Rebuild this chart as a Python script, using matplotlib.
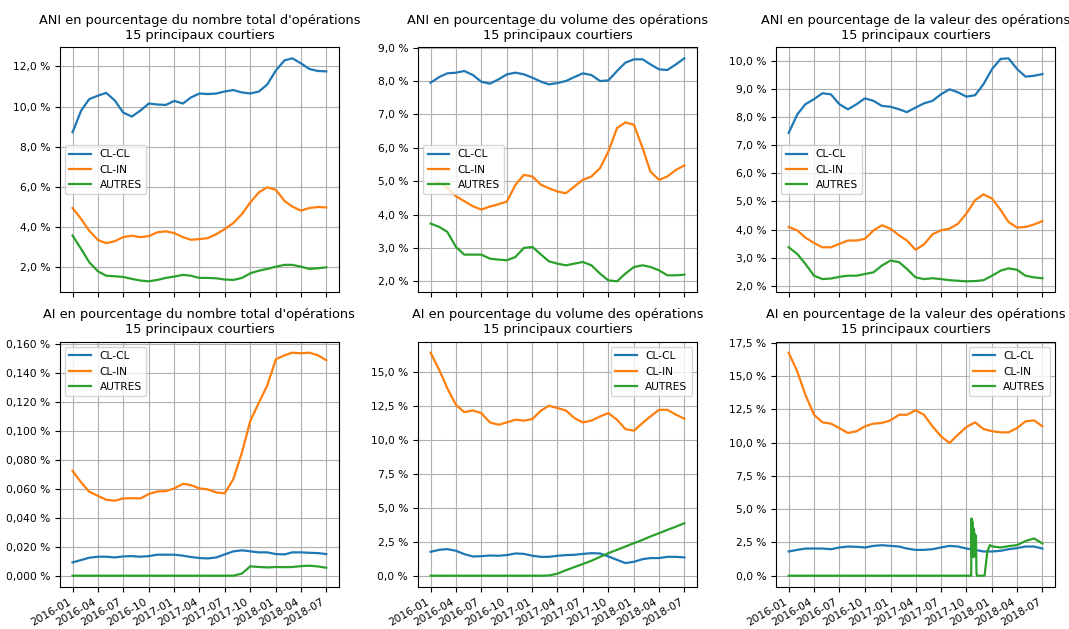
import matplotlib
matplotlib.use('Agg')
import matplotlib.pyplot as plt
import matplotlib.dates as mdates
from matplotlib.ticker import FuncFormatter, MultipleLocator
import pandas as pd

months = ['2016-01', '2016-02', '2016-03', '2016-04', '2016-05', '2016-06',
          '2016-07', '2016-08', '2016-09', '2016-10', '2016-11', '2016-12',
          '2017-01', '2017-02', '2017-03', '2017-04', '2017-05', '2017-06',
          '2017-07', '2017-08', '2017-09', '2017-10', '2017-11', '2017-12',
          '2018-01', '2018-02', '2018-03', '2018-04', '2018-05', '2018-06',
          '2018-07']
series_names = ['CL-CL', 'CL-IN', 'AUTRES']

# ANI - nombre total d'operations (%)
ani_nb_clcl = [8.72, 9.8, 10.37, 10.54, 10.68, 10.3, 9.7, 9.5, 9.8, 10.15, 10.1, 10.08,
               10.28, 10.15, 10.45, 10.65, 10.62, 10.65, 10.75, 10.82, 10.7, 10.65, 10.75,
               11.1, 11.8, 12.3, 12.4, 12.15, 11.87, 11.77, 11.75]
ani_nb_clin = [4.95, 4.4, 3.82, 3.36, 3.2, 3.3, 3.5, 3.57, 3.5, 3.55, 3.74, 3.79,
               3.7, 3.5, 3.37, 3.4, 3.45, 3.65, 3.9, 4.2, 4.65, 5.23, 5.73, 5.98,
               5.85, 5.3, 5.02, 4.82, 4.95, 5.0, 4.98]
ani_nb_autres = [3.58, 2.91, 2.25, 1.8, 1.58, 1.55, 1.52, 1.42, 1.34, 1.3, 1.37, 1.47,
                 1.54, 1.62, 1.58, 1.47, 1.47, 1.45, 1.39, 1.37, 1.47, 1.7, 1.83, 1.92,
                 2.03, 2.12, 2.12, 2.03, 1.92, 1.95, 2.0]

# ANI - volume des operations (%)
ani_vol_clcl = [7.95, 8.12, 8.23, 8.25, 8.3, 8.18, 7.98, 7.92, 8.05, 8.2, 8.25, 8.2,
                8.1, 7.98, 7.9, 7.94, 8.0, 8.12, 8.23, 8.18, 8.0, 8.02, 8.3, 8.55,
                8.65, 8.65, 8.5, 8.35, 8.33, 8.5, 8.68]
ani_vol_clin = [4.88, 4.97, 4.8, 4.55, 4.4, 4.25, 4.15, 4.24, 4.31, 4.39, 4.89, 5.19,
                5.14, 4.89, 4.79, 4.69, 4.64, 4.84, 5.04, 5.14, 5.39, 5.89, 6.59, 6.76,
                6.69, 5.99, 5.29, 5.04, 5.14, 5.34, 5.47]
ani_vol_autres = [3.73, 3.63, 3.48, 3.03, 2.8, 2.8, 2.8, 2.68, 2.65, 2.63, 2.73, 3.0,
                  3.03, 2.8, 2.6, 2.53, 2.48, 2.53, 2.58, 2.48, 2.23, 2.03, 2.0, 2.23,
                  2.43, 2.48, 2.43, 2.33, 2.18, 2.18, 2.2]

# ANI - valeur des operations (%)
ani_val_clcl = [7.43, 8.09, 8.45, 8.63, 8.84, 8.8, 8.45, 8.27, 8.45, 8.66, 8.57, 8.39,
                8.36, 8.27, 8.17, 8.33, 8.48, 8.57, 8.8, 8.98, 8.87, 8.72, 8.77, 9.16,
                9.7, 10.06, 10.08, 9.7, 9.43, 9.46, 9.52]
ani_val_clin = [4.09, 3.97, 3.71, 3.52, 3.37, 3.37, 3.49, 3.61, 3.61, 3.67, 3.97, 4.15,
                4.03, 3.79, 3.61, 3.28, 3.47, 3.83, 3.97, 4.03, 4.21, 4.57, 5.04, 5.25,
                5.1, 4.69, 4.27, 4.07, 4.09, 4.18, 4.3]
ani_val_autres = [3.37, 3.13, 2.78, 2.36, 2.24, 2.26, 2.32, 2.36, 2.36, 2.42, 2.48, 2.72,
                  2.9, 2.84, 2.6, 2.3, 2.24, 2.27, 2.24, 2.2, 2.18, 2.16, 2.17, 2.2,
                  2.36, 2.54, 2.62, 2.57, 2.36, 2.3, 2.27]

# AI - nombre total d'operations (%)
ai_nb_clcl = [0.0092, 0.0108, 0.0124, 0.0131, 0.0131, 0.0126, 0.0133, 0.0135, 0.0131,
              0.0135, 0.0145, 0.0145, 0.0145, 0.0138, 0.0129, 0.0122, 0.0119, 0.0126,
              0.0147, 0.0168, 0.0175, 0.0168, 0.0161, 0.0161, 0.0149, 0.0147, 0.0161,
              0.0161, 0.0158, 0.0156, 0.0149]
ai_nb_clin = [0.0723, 0.0643, 0.0579, 0.0551, 0.0524, 0.0517, 0.0533, 0.0535, 0.0533,
              0.0563, 0.0581, 0.0583, 0.0602, 0.0634, 0.0625, 0.0602, 0.0595, 0.0574,
              0.0568, 0.0666, 0.085, 0.1068, 0.1194, 0.1313, 0.1493, 0.152, 0.1538,
              0.1534, 0.1538, 0.152, 0.1486]
ai_nb_autres = [0.0, 0.0, 0.0, 0.0, 0.0, 0.0, 0.0, 0.0, 0.0, 0.0, 0.0, 0.0,
                0.0, 0.0, 0.0, 0.0, 0.0, 0.0, 0.0, 0.0, 0.0015, 0.0065, 0.006, 0.0057,
                0.006, 0.0059, 0.006, 0.0066, 0.0069, 0.0064, 0.0055]

# AI - volume des operations (%)
ai_vol_clcl = [1.76, 1.91, 1.96, 1.84, 1.59, 1.42, 1.44, 1.49, 1.47, 1.52, 1.64, 1.61,
               1.47, 1.39, 1.39, 1.47, 1.52, 1.54, 1.61, 1.66, 1.64, 1.42, 1.17, 0.93,
               1.03, 1.22, 1.3, 1.3, 1.39, 1.39, 1.35]
ai_vol_clin = [16.44, 15.17, 13.82, 12.6, 12.06, 12.18, 11.99, 11.3, 11.13, 11.3, 11.5, 11.43,
               11.55, 12.18, 12.53, 12.36, 12.18, 11.62, 11.3, 11.43, 11.74, 11.99, 11.5, 10.81,
               10.69, 11.26, 11.74, 12.23, 12.23, 11.87, 11.57]
ai_vol_autres = [0.0, 0.0, 0.0, 0.0, 0.0, 0.0, 0.0, 0.0, 0.0, 0.0, 0.0, 0.0,
                 0.0, 0.0, 0.02, 0.15, 0.4, 0.64, 0.86, 1.1, 1.39, 1.66, 1.91, 2.15,
                 2.4, 2.64, 2.89, 3.13, 3.38, 3.62, 3.87]

# AI - valeur des operations (%)
ai_val_clcl = [1.82, 1.94, 2.04, 2.04, 2.04, 1.99, 2.12, 2.19, 2.17, 2.12, 2.24, 2.29,
               2.24, 2.19, 2.04, 1.94, 1.94, 1.99, 2.12, 2.24, 2.19, 2.04, 1.94, 1.82,
               1.82, 1.87, 1.99, 2.07, 2.19, 2.19, 2.04]
ai_val_clin = [16.75, 15.33, 13.59, 12.09, 11.52, 11.42, 11.09, 10.72, 10.85, 11.22, 11.42, 11.47,
               11.67, 12.09, 12.09, 12.42, 12.09, 11.22, 10.47, 9.97, 10.6, 11.17, 11.52, 11.02,
               10.85, 10.77, 10.77, 11.09, 11.59, 11.67, 11.22]
# AUTRES has daily points around the end of 2017
ai_val_autres_dates = ['2016-01-01', '2016-07-01', '2017-01-01', '2017-07-01', '2017-10-01',
                       '2017-10-18', '2017-10-19', '2017-10-21', '2017-10-22', '2017-10-24',
                       '2017-10-25', '2017-10-27', '2017-10-28', '2017-10-30', '2017-11-01',
                       '2017-11-03', '2017-11-04', '2017-11-06', '2017-11-08', '2017-12-05',
                       '2017-12-15', '2017-12-24', '2018-01-01', '2018-02-01', '2018-03-01',
                       '2018-04-01', '2018-05-01', '2018-06-01', '2018-07-01']
ai_val_autres = [0.0, 0.0, 0.0, 0.0, 0.0,
                 0.0, 4.3, 1.4, 4.1, 1.6,
                 3.6, 1.4, 3.5, 1.8, 3.1,
                 1.5, 3.0, 0.2, 0.0, 0.0,
                 1.8, 2.3, 2.2, 2.12, 2.22,
                 2.3, 2.6, 2.8, 2.42]

titles = ["ANI en pourcentage du nombre total d'opérations\n15 principaux courtiers",
          "ANI en pourcentage du volume des opérations\n15 principaux courtiers",
          "ANI en pourcentage de la valeur des opérations\n15 principaux courtiers",
          "AI en pourcentage du nombre total d'opérations\n15 principaux courtiers",
          "AI en pourcentage du volume des opérations\n15 principaux courtiers",
          "AI en pourcentage de la valeur des opérations\n15 principaux courtiers"]


def pct_formatter(decimals):
    def fmt(v, pos):
        return ('{:.%df} %%' % decimals).format(v).replace('.', ',')
    return FuncFormatter(fmt)


plt.rcParams['font.size'] = 7.7

x = pd.to_datetime(months)
x_autres6 = pd.to_datetime(ai_val_autres_dates)

panels = [
    [(x, ani_nb_clcl), (x, ani_nb_clin), (x, ani_nb_autres)],
    [(x, ani_vol_clcl), (x, ani_vol_clin), (x, ani_vol_autres)],
    [(x, ani_val_clcl), (x, ani_val_clin), (x, ani_val_autres)],
    [(x, ai_nb_clcl), (x, ai_nb_clin), (x, ai_nb_autres)],
    [(x, ai_vol_clcl), (x, ai_vol_clin), (x, ai_vol_autres)],
    [(x, ai_val_clcl), (x, ai_val_clin), (x_autres6, ai_val_autres)],
]
steps = [2.0, 1.0, 1.0, 0.02, 2.5, 2.5]
decimals = [1, 1, 1, 3, 1, 1]
legend_locs = ['center left', 'center left', 'center left', 'upper left', 'upper right', 'upper right']

fig, axes = plt.subplots(2, 3, sharex=True, figsize=(10.69, 6.29), dpi=100)
for i, ax in enumerate(axes.flat):
    for (xs, ys), name in zip(panels[i], series_names):
        ax.plot(xs, ys, linewidth=1.6, label=name)
    ax.set_title(titles[i])
    ax.yaxis.set_major_locator(MultipleLocator(steps[i]))
    ax.yaxis.set_major_formatter(pct_formatter(decimals[i]))
    ax.grid(True)
    ax.legend(loc=legend_locs[i])

axes[1, 0].xaxis.set_major_locator(mdates.MonthLocator(bymonth=[1, 4, 7, 10]))
axes[1, 0].xaxis.set_major_formatter(mdates.DateFormatter('%Y-%m'))
fig.autofmt_xdate()
fig.subplots_adjust(left=0.056, right=0.987, top=0.925, bottom=0.067, wspace=0.283, hspace=0.2)
fig.savefig('out.png', dpi=100)
